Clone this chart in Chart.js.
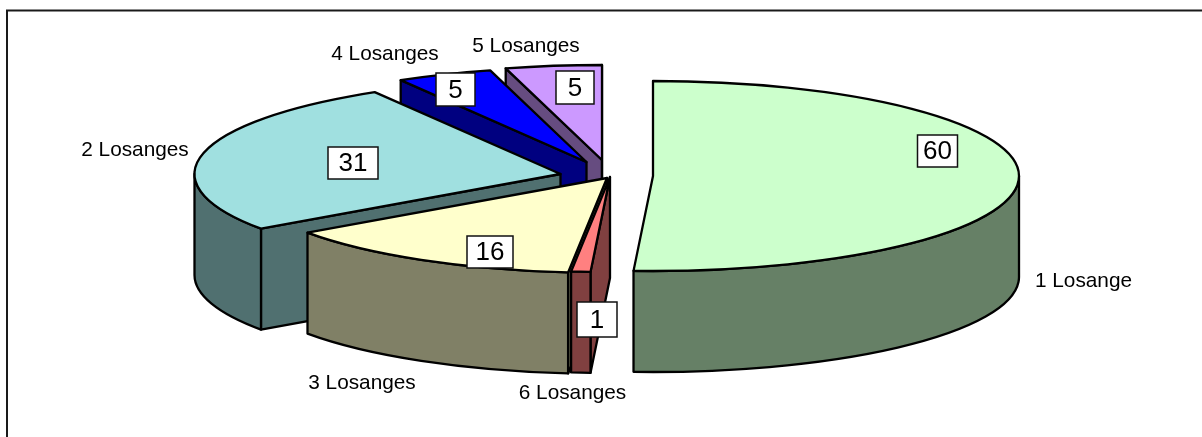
<!DOCTYPE html>
<html>
<head>
<meta charset="utf-8">
<title>Losanges</title>
<script src="https://cdn.jsdelivr.net/npm/chart.js@4/dist/chart.umd.min.js"></script>
<style>
    html, body { margin: 0; padding: 0; background: #fff; }
    canvas { display: block; }
</style>
</head>
<body>
<canvas id="pie" width="1202" height="437"></canvas>
<script>
// clockwise from 12 o'clock
const categories = ["1 Losange", "6 Losanges", "3 Losanges", "2 Losanges", "4 Losanges", "5 Losanges"];
const counts = [60, 1, 16, 31, 5, 5];

const topColors = ["#CCFFCC", "#FF8080", "#FFFFCC", "#A0E0E0", "#0000FF", "#CC99FF"];
const wallColors = ["#668066", "#804040", "#808066", "#507070", "#000080", "#664C80"];

// the tilted pie on the page
const center = {x: 607, y: 178};
const radiusX = 366, radiusY = 95, depth = 101;

// exploded slices, pixels away from the center
const shifts = [[46, -2], [3, -1], [0, 0], [-46.5, -4], [-20.5, -16], [-5, -18]];

// text boxes and names, same order as categories
const boxCenters = [[937.5, 151], [597, 319.5], [490, 252], [353, 163], [455.5, 89.5], [575, 87.5]];
const boxSizes = [[40, 32], [40, 35], [46, 32], [50, 32], [39, 33], [38, 33]];
const nameCenters = [[1083.5, 281], [572.5, 393], [362, 383], [135, 150], [385, 54], [526, 46]];

function apex(i) {
    return {x: center.x + shifts[i][0], y: center.y + shifts[i][1]};
}

function rimPoint(p, angle, drop) {
    return {x: p.x + Math.cos(angle) * radiusX, y: p.y + Math.sin(angle) * radiusY + drop};
}

function strokeFill(ctx, color) {
    ctx.fillStyle = color;
    ctx.fill();
    ctx.stroke();
}

function drawFace(ctx, p, angle, color) {
    const rim = rimPoint(p, angle, 0), rimLow = rimPoint(p, angle, depth);
    ctx.beginPath();
    ctx.moveTo(p.x, p.y);
    ctx.lineTo(rim.x, rim.y);
    ctx.lineTo(rimLow.x, rimLow.y);
    ctx.lineTo(p.x, p.y + depth);
    ctx.closePath();
    strokeFill(ctx, color);
}

function drawOuterWall(ctx, p, from, to, color) {
    ctx.beginPath();
    ctx.ellipse(p.x, p.y, radiusX, radiusY, 0, from, to);
    ctx.ellipse(p.x, p.y + depth, radiusX, radiusY, 0, to, from, true);
    ctx.closePath();
    strokeFill(ctx, color);
}

function drawSlice(ctx, arc, i) {
    const p = apex(i);
    const start = arc.startAngle, end = arc.endAngle;

    ctx.lineWidth = 2.3;
    ctx.strokeStyle = "#000";
    ctx.lineJoin = "round";

    // walls first, only the sides that face the viewer
    if (Math.cos(start) < 0) drawFace(ctx, p, start, wallColors[i]);
    if (Math.cos(end) > 0) drawFace(ctx, p, end, wallColors[i]);
    const from = Math.max(start, 0), to = Math.min(end, Math.PI);
    if (from < to) drawOuterWall(ctx, p, from, to, wallColors[i]);

    // the slice itself is the library's arc, squashed into an ellipse
    ctx.save();
    ctx.translate(p.x, p.y);
    ctx.scale(radiusX / arc.outerRadius, radiusY / arc.outerRadius);
    ctx.translate(-arc.x, -arc.y);
    arc.draw(ctx);
    ctx.restore();

    ctx.beginPath();
    ctx.moveTo(p.x, p.y);
    ctx.ellipse(p.x, p.y, radiusX, radiusY, 0, start, end);
    ctx.closePath();
    ctx.stroke();
}

const tiltedPie = {
    id: "tiltedPie",
    beforeDraw(chart) {
        // frame runs off the right and bottom of the picture
        const ctx = chart.ctx;
        ctx.save();
        ctx.strokeStyle = "#1a1a1a";
        ctx.lineWidth = 2;
        ctx.beginPath();
        ctx.moveTo(7, chart.height);
        ctx.lineTo(7, 10.5);
        ctx.lineTo(chart.width, 10.5);
        ctx.stroke();
        ctx.restore();
    },
    beforeDatasetDraw(chart, args) {
        // back to front, so the front slices hide the walls behind them
        const ctx = chart.ctx;
        const arcs = args.meta.data;
        ctx.save();
        for (let i = arcs.length - 1; i >= 0; i--) {
            drawSlice(ctx, arcs[i], i);
        }
        ctx.restore();
        return false;
    },
    afterDraw(chart) {
        const ctx = chart.ctx;
        ctx.save();
        ctx.textAlign = "center";
        ctx.textBaseline = "middle";
        ctx.fillStyle = "#000";

        ctx.font = "20.8px 'Liberation Sans', Arial, sans-serif";
        categories.forEach((name, i) => {
            ctx.fillText(name, nameCenters[i][0], nameCenters[i][1]);
        });

        ctx.font = "26px 'Liberation Sans', Arial, sans-serif";
        ctx.lineWidth = 1.5;
        ctx.strokeStyle = "#111";
        counts.forEach((value, i) => {
            const [x, y] = boxCenters[i], [w, h] = boxSizes[i];
            ctx.fillStyle = "#fff";
            ctx.fillRect(x - w / 2, y - h / 2, w, h);
            ctx.strokeRect(x - w / 2, y - h / 2, w, h);
            ctx.fillStyle = "#000";
            ctx.fillText(String(value), x, y + 1);
        });
        ctx.restore();
    }
};

new Chart(document.getElementById("pie").getContext("2d"), {
    type: "pie",
    data: {
        labels: categories,
        datasets: [{
            data: counts,
            backgroundColor: topColors,
            borderWidth: 0
        }]
    },
    options: {
        responsive: false,
        animation: false,
        plugins: {
            legend: {display: false},
            tooltip: {enabled: false},
            title: {display: false}
        }
    },
    plugins: [tiltedPie]
});
</script>
</body>
</html>
